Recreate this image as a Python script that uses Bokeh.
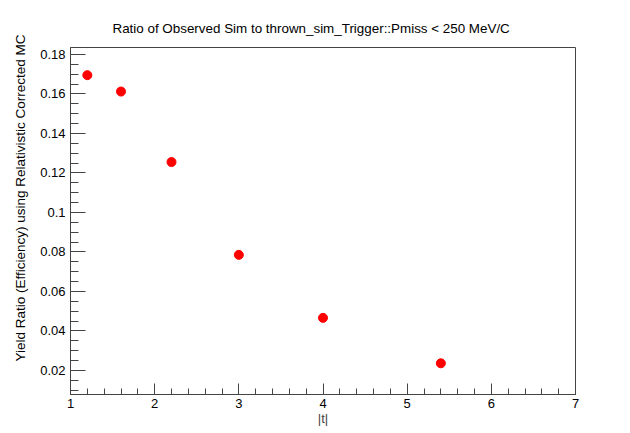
from bokeh.plotting import figure
from bokeh.embed import file_html
from bokeh.resources import INLINE
from bokeh.models import Range1d, FixedTicker, Title

# Data
t_vals = [1.2, 1.6, 2.2, 3.0, 4.0, 5.4]
ratio_vals = [0.1695, 0.1612, 0.1255, 0.0785, 0.0466, 0.0236]

x_ticks = [1, 2, 3, 4, 5, 6, 7]
x_tick_labels = ["1", "2", "3", "4", "5", "6", "7"]
y_ticks = [0.02, 0.04, 0.06, 0.08, 0.10, 0.12, 0.14, 0.16, 0.18]
y_tick_labels = ["0.02", "0.04", "0.06", "0.08", "0.1", "0.12", "0.14", "0.16", "0.18"]

title_text = "Ratio of Observed Sim to thrown_sim_Trigger::Pmiss < 250 MeV/C"
x_label = "|t|"
y_label = "Yield Ratio (Efficiency) using Relativistic Corrected MC"

FONT = "Liberation Sans"
AX = "#444444"

p = figure(width=622, height=428, output_backend="svg", toolbar_location=None,
           x_range=Range1d(1, 7), y_range=Range1d(0.0078, 0.1835),
           min_border_left=70, min_border_right=47, min_border_top=47, min_border_bottom=34)

p.title.text = title_text
p.title.align = "left"
p.title.offset = 42
p.title.standoff = 20
p.title.vertical_align = "top"
p.title.text_font = FONT
p.title.text_font_size = "13.4px"
p.title.text_font_style = "normal"
p.title.text_color = "#000000"

p.xgrid.visible = False
p.ygrid.visible = False
p.outline_line_color = AX
p.outline_line_width = 1
p.background_fill_color = "white"
p.border_fill_color = "white"

# x axis
xa = p.xaxis[0]
xa.ticker = FixedTicker(ticks=x_ticks,
                        minor_ticks=[1 + 0.2 * i for i in range(31)])
xa.major_label_overrides = {t: l for t, l in zip(x_ticks, x_tick_labels)}
xa.major_tick_in = 11
xa.major_tick_out = 0
xa.minor_tick_in = 6
xa.minor_tick_out = 0
xa.axis_line_color = AX
xa.major_tick_line_color = AX
xa.minor_tick_line_color = AX
xa.major_label_text_font = FONT
xa.major_label_text_font_size = "13px"
xa.major_label_text_color = "#000000"
xa.major_label_standoff = 4
xa.axis_label = x_label
xa.axis_label_text_font = FONT
xa.axis_label_text_font_size = "13px"
xa.axis_label_text_font_style = "normal"
xa.axis_label_standoff = 0

# y axis
ya = p.yaxis[0]
ya.ticker = FixedTicker(ticks=y_ticks,
                        minor_ticks=[0.005 * i for i in range(2, 37)])
ya.major_label_overrides = {t: l for t, l in zip(y_ticks, y_tick_labels)}
ya.major_tick_in = 15
ya.major_tick_out = 0
ya.minor_tick_in = 8
ya.minor_tick_out = 0
ya.axis_line_color = AX
ya.major_tick_line_color = AX
ya.minor_tick_line_color = AX
ya.major_label_text_font = FONT
ya.major_label_text_font_size = "13px"
ya.major_label_text_color = "#000000"
ya.major_label_standoff = 5

ytitle = Title(text=y_label, align="left", offset=33, standoff=20,
               text_font=FONT, text_font_size="13.5px", text_font_style="normal",
               text_color="#000000")
p.add_layout(ytitle, "left")

p.scatter(x=t_vals, y=ratio_vals, size=9, marker="circle",
          fill_color="#ff0000", line_color="#ff0000")

open("out.html", "w").write(file_html(p, INLINE))
